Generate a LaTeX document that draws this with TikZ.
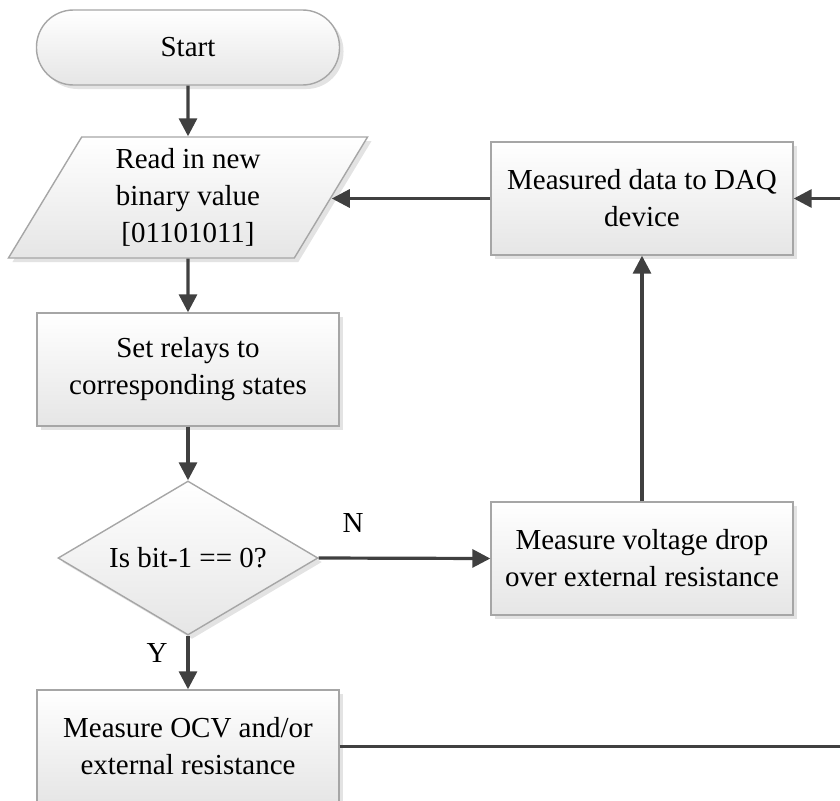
\documentclass[tikz,border=0pt]{standalone}
\usepackage{fontspec}
\setmainfont{Liberation Serif}
\usetikzlibrary{shapes.geometric,shadows,arrows.meta,calc}

\definecolor{edgegray}{HTML}{404040}
\definecolor{boxline}{HTML}{A6A6A6}

\tikzset{
  every node/.style={font=\fontsize{29}{37}\selectfont, align=center},
  boxbase/.style={draw=boxline, line width=1.4pt, top color=white, bottom color=black!10,
    drop shadow={shadow xshift=4pt, shadow yshift=-4pt, fill=black!20, opacity=0.55}},
  procbox/.style={boxbase, rectangle, minimum width=302pt, minimum height=113pt, inner sep=0pt},
  termbox/.style={boxbase, rectangle, rounded corners=37pt, minimum width=303pt, minimum height=75pt, inner sep=0pt},
  iobox/.style={boxbase, trapezium, trapezium left angle=63, trapezium right angle=117,
    trapezium stretches=true, minimum width=360pt, minimum height=121pt, inner sep=0pt},
  decbox/.style={boxbase, diamond, minimum width=260pt, minimum height=154pt, inner sep=0pt, shape aspect=1.69},
  flow/.style={draw=edgegray, line width=3.2pt, -{Triangle[length=18pt,width=18pt]}},
  plainflow/.style={draw=edgegray, line width=3.2pt},
  branchlabel/.style={font=\fontsize{29}{37}\selectfont, inner sep=0pt}
}

\begin{document}
\begin{tikzpicture}[x=1pt, y=-1pt]
  \path[use as bounding box, clip] (0,0) rectangle (840,800);

  % main column
  \node[termbox] (start) at (188,47.5) {Start};
  \node[iobox] (read) at (188,197.5) {Read in new\\binary value\\{[}01101011{]}};
  \node[procbox] (relays) at (188,369.5) {Set relays to\\corresponding states};
  \node[decbox] (bit) at (188,558) {Is bit-1 == 0?};
  \node[procbox] (ocv) at (188,746.5) {Measure OCV and/or\\external resistance};

  % right column
  \node[procbox] (daq) at (642,198.5) {Measured data to DAQ\\device};
  \node[procbox] (drop) at (642,558.5) {Measure voltage drop\\over external resistance};

  % off-page ends of the return path
  \coordinate (rightin) at (860,198.5);
  \coordinate (rightout) at (860,746.5);

  % connectors
  \draw[flow] (start.south) -- (read.north);
  \draw[flow] (read.south) -- (relays.north);
  \draw[flow] (relays.south) -- (bit.north);
  \draw[flow] (bit.south) -- node[branchlabel, pos=0.33, xshift=-31pt] {Y} (ocv.north);
  \draw[flow] (bit.east) -- node[branchlabel, pos=0.2, yshift=35pt] {N} (drop.west);
  \draw[flow] (drop.north) -- (daq.south);
  \draw[flow] (daq.west) -- (read.east |- daq.west);
  \draw[flow] (rightin) -- (daq.east);
  \draw[plainflow] (ocv.east) -- (rightout);
\end{tikzpicture}
\end{document}
